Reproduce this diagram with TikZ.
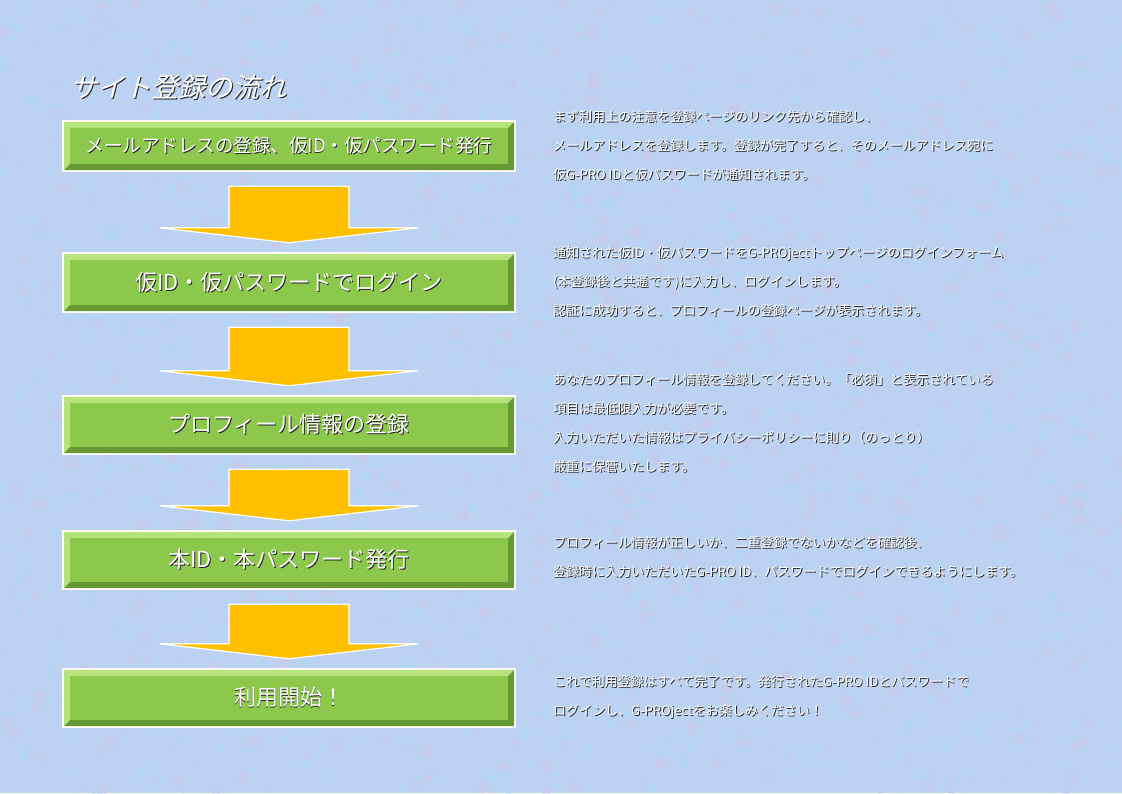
\documentclass[tikz,border=0pt]{standalone}
\usepackage{fontspec}
\setmainfont{Noto Sans CJK JP}
\newfontfamily\titlefont[FakeSlant=0.25]{Noto Sans CJK JP}
\usetikzlibrary{calc}
\definecolor{bg}{RGB}{188,210,242}
\definecolor{speckpink}{RGB}{214,192,232}
\definecolor{speckblue}{RGB}{172,216,246}
\definecolor{facegreen}{RGB}{140,200,76}
\definecolor{lightgreen}{RGB}{182,228,122}
\definecolor{darkgreen}{RGB}{104,152,52}
\definecolor{arroworange}{RGB}{255,192,0}
\newcommand\shtxt[1]{\makebox[0pt][l]{\kern0.9pt\raisebox{-0.9pt}{\color{black!85}#1}}{\color{white}#1}}
\tikzset{
  boxface/.style={fill=facegreen, inner sep=0pt, minimum width=438pt},
  flowarrow/.style={fill=arroworange, draw=white, line width=1.2pt, line join=miter},
  desc/.style={anchor=north west, inner sep=0pt, align=left, font=\fontsize{13}{29}\selectfont},
}
\newcommand\flowbox[5]{%
  \fill[white] (62,#2) rectangle (516,#3);
  \fill[lightgreen] (64,#2+2) -- (514,#2+2) -- (508,#2+8) -- (70,#2+8) -- (70,#3-8) -- (64,#3-2) -- cycle;
  \fill[darkgreen] (514,#2+2) -- (514,#3-2) -- (64,#3-2) -- (70,#3-8) -- (508,#3-8) -- (508,#2+8) -- cycle;
  \node[boxface, minimum height=#3-#2-16, font=\fontsize{#4}{#4}\selectfont] (#1) at (289,{(#2+#3)/2}) {\shtxt{#5}};
}
\newcommand\flowarr[2]{%
  \draw[flowarrow] ($(#1.south)+(-60,22)$) -- ($(#1.south)+(60,22)$) -- ($(#2.north)+(60,-32)$)
    -- ($(#2.north)+(129,-32)$) -- ($(#2.north)+(0,-17)$) -- ($(#2.north)+(-129,-32)$)
    -- ($(#2.north)+(-60,-32)$) -- cycle;
}
\begin{document}
\begin{tikzpicture}[x=1pt,y=-1pt]
\fill[bg] (0,0) rectangle (1122,793);
\useasboundingbox (0,0) rectangle (1122,793);
\pgfmathsetseed{7}
\foreach \i in {1,...,900} {
  \fill[speckpink, opacity=0.3] ({rnd*1122},{rnd*793}) circle ({1.5+rnd*5});
}
\foreach \i in {1,...,900} {
  \fill[speckblue, opacity=0.35] ({rnd*1122},{rnd*793}) circle ({1.5+rnd*5});
}

\node[anchor=west, inner sep=0pt, font=\titlefont\fontsize{27}{27}\selectfont] (title) at (70,88) {\shtxt{サイト登録の流れ}};

\flowbox{b1}{120}{172}{18.5}{メールアドレスの登録、仮ID・仮パスワード発行}
\flowbox{b2}{252}{313}{22}{仮ID・仮パスワードでログイン}
\flowbox{b3}{395}{455}{22}{プロフィール情報の登録}
\flowbox{b4}{530}{590}{22}{本ID・本パスワード発行}
\flowbox{b5}{668}{728}{22}{利用開始！}

\flowarr{b1}{b2}
\flowarr{b2}{b3}
\flowarr{b3}{b4}
\flowarr{b4}{b5}

\node[desc] (d1) at (553,110) {\shtxt{まず利用上の注意を登録ページのリンク先から確認し、}\\\shtxt{メールアドレスを登録します。登録が完了すると、そのメールアドレス宛に}\\\shtxt{仮G-PRO IDと仮パスワードが通知されます。}};
\node[desc] (d2) at (553,246) {\shtxt{通知された仮ID・仮パスワードをG-PROjectトップページのログインフォーム}\\\shtxt{(本登録後と共通です)に入力し、ログインします。}\\\shtxt{認証に成功すると、プロフィールの登録ページが表示されます。}};
\node[desc] (d3) at (553,373) {\shtxt{あなたのプロフィール情報を登録してください。「必須」と表示されている}\\\shtxt{項目は最低限入力が必要です。}\\\shtxt{入力いただいた情報はプライバシーポリシーに則り（のっとり）}\\\shtxt{厳重に保管いたします。}};
\node[desc] (d4) at (553,536) {\shtxt{プロフィール情報が正しいか、二重登録でないかなどを確認後、}\\\shtxt{登録時に入力いただいたG-PRO ID、パスワードでログインできるようにします。}};
\node[desc] (d5) at (553,675) {\shtxt{これで利用登録はすべて完了です。発行されたG-PRO IDとパスワードで}\\\shtxt{ログインし、G-PROjectをお楽しみください！}};
\end{tikzpicture}
\end{document}
